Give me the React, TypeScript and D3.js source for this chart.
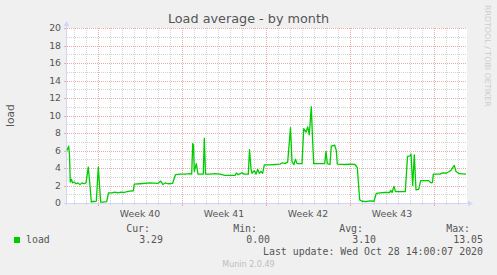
import React from "react";
import * as d3 from "d3";

// sample index = one 2-hour RRD step from graph start
const loadSamples: [number, number][] = [
  [0, 6.0], [1.7, 6.5], [2.5, 5.5], [3.3, 2.4], [4.5, 2.7], [5.5, 2.3], [7, 2.4], [9, 2.2], [11, 2.3], [13, 2.1],
  [15, 2.3], [17, 2.2], [19, 2.3], [21.3, 4.1], [23, 2.0], [24.3, 0.1], [26, 0.2], [28, 0.15], [29.3, 0.2], [31.3, 4.1],
  [33.7, 0.1], [36, 0.1], [39.7, 0.15], [41.5, 1.15], [45, 1.15], [48, 1.25], [51, 1.15], [54, 1.25], [57, 1.2], [60, 1.3],
  [63, 1.35], [66.3, 1.4], [67.3, 2.15], [73, 2.2], [83, 2.3], [91, 2.25], [93.7, 2.5], [96, 2.1], [98, 2.3], [101, 2.2],
  [105.7, 2.25], [108.5, 3.25], [113, 3.3], [118, 3.3], [123, 3.35], [124.7, 3.3], [125.7, 6.8], [126.5, 6.6], [127.3, 3.6], [129.3, 4.5],
  [131, 3.3], [133, 3.3], [136.3, 3.3], [137.3, 7.4], [138.5, 3.3], [143, 3.3], [148, 3.35], [153, 3.3], [158, 3.15], [163, 3.15],
  [168, 3.15], [169.5, 3.45], [171, 3.25], [175, 3.45], [177, 3.3], [181.3, 3.3], [182.5, 6.1], [184, 3.9], [185, 3.4], [187.3, 3.7],
  [189, 3.3], [190.7, 3.85], [192.3, 3.4], [194, 3.6], [195.7, 3.4], [197.3, 4.35], [203, 4.35], [208, 4.4], [213, 4.45], [215.7, 4.6],
  [218, 4.5], [220.7, 4.7], [223.5, 8.6], [225, 4.7], [227, 4.4], [228.5, 5.0], [230, 4.5], [235, 4.5], [236.7, 8.5], [239, 8.1],
  [240.7, 8.7], [242.3, 7.8], [244.3, 11.0], [245.5, 7.5], [246.7, 4.5], [251, 4.5], [257.7, 4.5], [259, 5.9], [260.3, 4.5], [263, 4.4],
  [264.3, 6.5], [267.7, 6.6], [269.3, 6.0], [270.3, 4.45], [278, 4.4], [283, 4.45], [288, 4.4], [290.3, 4.05], [292.7, 0.35], [295, 0.2],
  [299, 0.15], [303, 0.25], [307, 0.2], [309.3, 1.1], [313, 1.15], [318, 1.2], [322.7, 1.2], [323.7, 1.45], [325, 1.2], [327, 1.9],
  [328.5, 1.3], [333, 1.3], [338.3, 1.3], [340.5, 5.3], [343, 5.4], [344, 5.6], [345.7, 2.0], [347.3, 5.5], [349, 1.5], [351.7, 1.55],
  [353.7, 2.55], [361.7, 2.55], [364, 2.3], [365.5, 2.35], [366.3, 3.3], [373, 3.3], [375.7, 3.45], [379, 3.4], [382.3, 3.6], [384, 3.75],
  [387.3, 4.3], [389, 3.6], [392.3, 3.35], [399, 3.3],
];

const yTicks = [0, 2, 4, 6, 8, 10, 12, 14, 16, 18, 20];
const yMinor = d3.range(0, 21, 1);
const legendHeaders = ["Cur:", "Min:", "Avg:", "Max:"];
const legendValues = ["3.29", "0.00", "3.10", "13.05"];
const seriesName = "load";
const title = "Load average - by month";
const lastUpdate = "Last update: Wed Oct 28 14:00:07 2020";
const footer = "Munin 2.0.49";
const watermark = "RRDTOOL / TOBI OETIKER";

const STEP_MS = 2 * 3600 * 1000;
const START = Date.UTC(2020, 8, 25, 10, 0, 0);
const END = START + 400 * STEP_MS;

const PL = 67, PR = 467, PT = 28, PB = 203;
const GREEN = "#00cc00";
const FONT = "DejaVu Sans, sans-serif";
const MONO = "DejaVu Sans Mono, monospace";
const TXT = "#555555";
const AXIS = "#cfd6f8";
const MINOR = "#d2d2d2";
const MAJOR = "#eeaaaa";

export default function App() {
  const x = d3.scaleUtc().domain([new Date(START), new Date(END)]).range([PL, PR]);
  const y = d3.scaleLinear().domain([0, 20]).range([PB, PT]);

  const days = d3.utcDay.range(new Date(START), new Date(END));
  const mondays = d3.utcMonday.range(new Date(START), new Date(END));
  const weekFmt = d3.utcFormat("%V");

  const line = d3
    .line<[number, number]>()
    .x((d) => x(new Date(START + d[0] * STEP_MS)))
    .y((d) => y(d[1]));

  const legendHeaderX = [150, 257, 363, 470];
  const legendValueX = [163, 270, 376, 483];

  return (
    <svg
      width={497}
      height={275}
      style={{ position: "fixed", left: 0, top: 0 }}
      xmlns="http://www.w3.org/2000/svg"
    >
      <rect x={0} y={0} width={497} height={275} fill="#f0f0f0" />
      <rect x={PL} y={PT} width={PR - PL} height={PB - PT} fill="#ffffff" />

      {/* minor grid */}
      {yMinor.map((v) => (
        <line key={"hm" + v} x1={PL} x2={PR} y1={Math.round(y(v)) + 0.5} y2={Math.round(y(v)) + 0.5}
          stroke={MINOR} strokeDasharray="1,1" />
      ))}
      {days.map((d) => (
        <line key={"vm" + d.getTime()} x1={Math.round(x(d)) + 0.5} x2={Math.round(x(d)) + 0.5} y1={PT} y2={PB}
          stroke={MINOR} strokeDasharray="1,1" />
      ))}
      {/* major grid */}
      {yTicks.map((v) => (
        <line key={"hM" + v} x1={PL} x2={PR} y1={Math.round(y(v)) + 0.5} y2={Math.round(y(v)) + 0.5}
          stroke={MAJOR} strokeDasharray="1,1" />
      ))}
      {mondays.map((d) => (
        <line key={"vM" + d.getTime()} x1={Math.round(x(d)) + 0.5} x2={Math.round(x(d)) + 0.5} y1={PT} y2={PB}
          stroke={MAJOR} strokeDasharray="1,1" />
      ))}

      {/* axis ticks */}
      {yTicks.map((v) => (
        <line key={"yt" + v} x1={PL - 3} x2={PL} y1={Math.round(y(v)) + 0.5} y2={Math.round(y(v)) + 0.5} stroke={MAJOR} />
      ))}
      {days.map((d) => (
        <line key={"xt" + d.getTime()} x1={Math.round(x(d)) + 0.5} x2={Math.round(x(d)) + 0.5} y1={PB} y2={PB + 2} stroke={MINOR} />
      ))}
      {mondays.map((d) => (
        <line key={"xT" + d.getTime()} x1={Math.round(x(d)) + 0.5} x2={Math.round(x(d)) + 0.5} y1={PB} y2={PB + 3} stroke={MAJOR} />
      ))}

      {/* axes */}
      <line x1={PL - 0.5} x2={PL - 0.5} y1={PB + 2} y2={PT - 4} stroke={AXIS} />
      <path d={`M${PL - 3.5},${PT - 2} L${PL + 2.5},${PT - 2} L${PL - 0.5},${PT - 7} Z`} fill={AXIS} />
      <line x1={PL - 3} x2={PR + 2} y1={PB + 0.5} y2={PB + 0.5} stroke={AXIS} />
      <path d={`M${PR + 1},${PB - 2.5} L${PR + 1},${PB + 3.5} L${PR + 6},${PB + 0.5} Z`} fill={AXIS} />

      {/* data */}
      <path d={line(loadSamples) || ""} fill="none" stroke={GREEN} strokeWidth={1.3} strokeLinejoin="round" />

      {/* y labels */}
      {yTicks.map((v) => (
        <text key={"yl" + v} x={61} y={y(v)} dy="0.36em" textAnchor="end" fontFamily={FONT} fontSize={9.33} fill={TXT}>
          {v}
        </text>
      ))}
      {/* week labels */}
      {mondays
        .filter((m) => +d3.utcHour.offset(m, 84) < END)
        .map((m) => (
          <text key={"wl" + m.getTime()} x={x(d3.utcHour.offset(m, 84))} y={216.5} textAnchor="middle"
            fontFamily={FONT} fontSize={9.33} fill={TXT}>
            {"Week " + +weekFmt(m)}
          </text>
        ))}

      {/* title */}
      <text x={248.5} y={23} textAnchor="middle" fontFamily={FONT} fontSize={12.8} fill={TXT}>{title}</text>
      {/* y axis label */}
      <text transform={`translate(13.5,${(PT + PB) / 2}) rotate(-90)`} textAnchor="middle" fontFamily={FONT}
        fontSize={10.67} fill={TXT}>{seriesName}</text>
      {/* watermark */}
      <text transform={`translate(485,5) rotate(90)`} textAnchor="start" fontFamily={FONT} fontSize={7.9} fill="#cccccc">
        {watermark}
      </text>

      {/* legend */}
      {legendHeaders.map((h, i) => (
        <text key={"lh" + i} x={legendHeaderX[i]} y={231.5} textAnchor="end" fontFamily={MONO} fontSize={9.9} fill={TXT}>
          {h}
        </text>
      ))}
      <rect x={14} y={237} width={6} height={6} fill={GREEN} />
      <text x={26} y={243.3} fontFamily={MONO} fontSize={9.9} fill={TXT}>{seriesName}</text>
      {legendValues.map((v, i) => (
        <text key={"lv" + i} x={legendValueX[i]} y={243.3} textAnchor="end" fontFamily={MONO} fontSize={9.9} fill={TXT}>
          {v}
        </text>
      ))}
      <text x={483} y={255.3} textAnchor="end" fontFamily={MONO} fontSize={9.9} fill={TXT}>{lastUpdate}</text>
      <text x={248.5} y={266.5} textAnchor="middle" fontFamily={FONT} fontSize={8} fill="#bdbdbd">{footer}</text>
    </svg>
  );
}
